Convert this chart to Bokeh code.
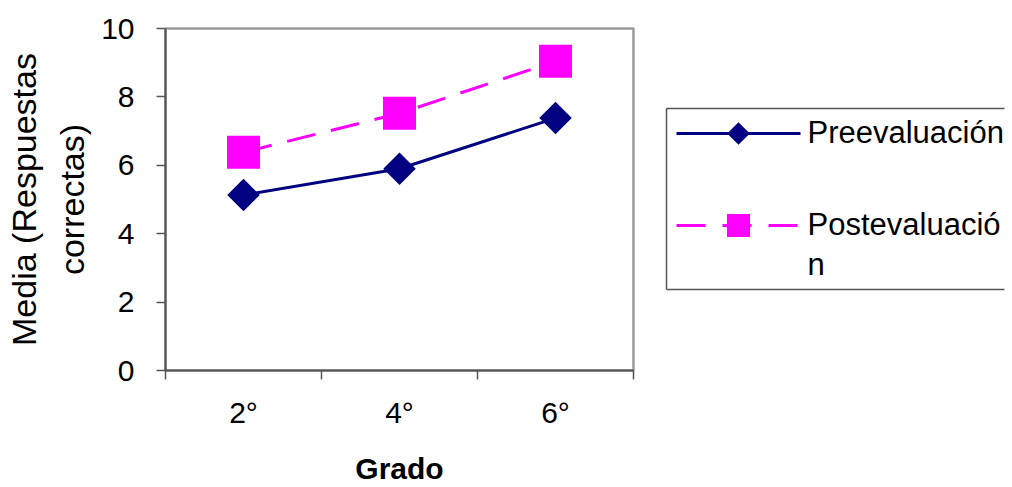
from bokeh.plotting import figure
from bokeh.models import Range1d, FixedTicker, ColumnDataSource
from bokeh.layouts import row
from bokeh.embed import file_html
from bokeh.resources import INLINE
from bokeh.core.properties import value

# ---- data ----
categories = ["2°", "4°", "6°"]
pre = [5.13, 5.9, 7.38]
post = [6.38, 7.52, 9.04]
series_labels = ["Preevaluación", "Postevaluació\nn"]
y_ticks = [0, 2, 4, 6, 8, 10]

FONT_NAME = "Liberation Sans"
FONT = value(FONT_NAME)
NAVY = "#000080"
MAGENTA = "#FF00FF"

W_MAIN, W_LEG, H = 660, 352, 487
B_TOP, B_BOTTOM = 28, 117
X_END = W_MAIN + W_LEG

xs = list(range(len(categories)))
src = ColumnDataSource(dict(x=xs, pre=pre, post=post))

p = figure(width=W_MAIN, height=H, output_backend="svg", toolbar_location=None,
           x_range=Range1d(-0.5, len(categories) - 0.5),
           y_range=Range1d(y_ticks[0], y_ticks[-1]),
           min_border_left=165, min_border_right=W_MAIN - 633,
           min_border_top=B_TOP, min_border_bottom=B_BOTTOM)
p.grid.visible = False
p.outline_line_color = "#9a9a9a"
p.outline_line_width = 2.5
p.background_fill_color = "white"
p.border_fill_color = "white"

# series
p.line("x", "post", source=src, line_color=MAGENTA, line_width=3, line_dash="29 16")
p.line("x", "pre", source=src, line_color=NAVY, line_width=3)
p.scatter("x", "post", source=src, marker="square", size=33,
          fill_color=MAGENTA, line_color=None)
p.scatter("x", "pre", source=src, marker="square", size=23, angle=0.785398,
          fill_color=NAVY, line_color=None)

# x axis
xa = p.xaxis[0]
xa.ticker = FixedTicker(ticks=xs, minor_ticks=[x - 0.5 for x in xs] + [xs[-1] + 0.5])
xa.major_label_overrides = {i: c for i, c in enumerate(categories)}
xa.major_tick_out = 0
xa.major_tick_in = 0
xa.minor_tick_out = 9
xa.minor_tick_in = 0
xa.minor_tick_line_color = "#555555"
xa.minor_tick_line_width = 1.5
xa.axis_line_color = "#555555"
xa.axis_line_width = 2
xa.major_label_text_font = FONT_NAME
xa.major_label_text_font_size = "30px"
xa.major_label_text_color = "black"
xa.major_label_standoff = 16
xa.axis_label = "Grado"
xa.axis_label_text_font = FONT_NAME
xa.axis_label_text_font_size = "30px"
xa.axis_label_text_font_style = "bold"
xa.axis_label_text_color = "black"
xa.axis_label_standoff = 20

# y axis
ya = p.yaxis[0]
ya.ticker = FixedTicker(ticks=y_ticks, minor_ticks=[])
ya.major_tick_out = 9
ya.major_tick_in = 0
ya.major_tick_line_color = "#555555"
ya.major_tick_line_width = 1.5
ya.axis_line_color = "#555555"
ya.axis_line_width = 2
ya.major_label_text_font = FONT_NAME
ya.major_label_text_font_size = "30px"
ya.major_label_text_color = "black"
ya.major_label_standoff = 22
ya.axis_label = "Media (Respuestas\ncorrectas)"
ya.axis_label_text_font = FONT_NAME
ya.axis_label_text_font_size = "34px"
ya.axis_label_text_font_style = "normal"
ya.axis_label_text_color = "black"
ya.axis_label_text_line_height = 1.27
ya.axis_label_standoff = 7

# ---- legend panel (coordinates = page pixels) ----
leg = figure(width=W_LEG, height=H, output_backend="svg", toolbar_location=None,
             x_range=Range1d(W_MAIN, X_END), y_range=Range1d(H - B_BOTTOM, B_TOP),
             x_axis_location=None, y_axis_location=None,
             min_border_left=0, min_border_right=0,
             min_border_top=B_TOP, min_border_bottom=B_BOTTOM)
leg.grid.visible = False
leg.outline_line_color = None
leg.border_fill_color = "white"
leg.background_fill_color = "white"

leg.segment(x0=[666, 666, 666], y0=[108, 108, 289],
            x1=[X_END - 8, 666, X_END - 8], y1=[108, 289, 289],
            line_color="#555555", line_width=1.5)
leg.line(x=[676, 800], y=[133, 133], line_color=NAVY, line_width=3)
leg.scatter(x=[738], y=[133], marker="square", size=16, angle=0.785398,
            fill_color=NAVY, line_color=None)
leg.line(x=[676, 800], y=[225, 225], line_color=MAGENTA, line_width=3, line_dash="29 17")
leg.scatter(x=[738], y=[225], marker="square", size=23,
            fill_color=MAGENTA, line_color=None)
leg.text(x=[807, 807], y=[132, 244], text=series_labels,
         text_font=FONT, text_font_size="31px", text_baseline="alphabetic",
         text_line_height=1.13, text_color="black")

layout = row(p, leg)
open("out.html", "w").write(file_html(layout, INLINE))
